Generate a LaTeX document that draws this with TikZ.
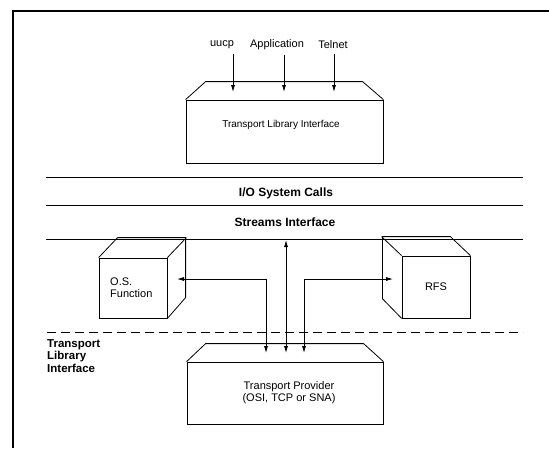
\documentclass[tikz,border=0pt]{standalone}
\usepackage{fontspec}
\setmainfont{Liberation Sans}
\usetikzlibrary{arrows.meta}
\begin{document}
\begin{tikzpicture}[x=1pt,y=-1pt,
  ln/.style={line width=0.8pt,line join=round},
  box/.style={draw,line width=0.8pt,inner sep=0pt,rectangle},
  arr/.style={line width=0.8pt,-{Latex[length=7pt,width=4pt]}},
  darr/.style={line width=0.8pt,{Latex[length=7pt,width=4pt]}-{Latex[length=7pt,width=4pt]}},
  txt/.style={font=\fontsize{11}{12}\selectfont,inner sep=1pt},
  btxt/.style={font=\fontsize{12}{12.5}\selectfont\bfseries,inner sep=1pt}]
\useasboundingbox (0,0) rectangle (549,448);
% frame
\draw[line width=1.3pt] (13,448) -- (13,11) -- (549,11);

% top box
\node[box,minimum width=197pt,minimum height=63pt] (tli) at (284.5,131.5) {};
\draw[ln] (tli.north west) -- ++(20,-18) -- ++(157,0) -- (tli.north east);
\node[txt,font=\fontsize{10}{12}\selectfont] (tlitxt) at (281,125) {Transport Library Interface};

% inputs
\node[txt] (uucp) at (222,45) {uucp};
\node[txt] (app) at (277,45) {Application};
\node[txt] (tel) at (333,45) {Telnet};
\coordinate (uin) at (233,92);
\coordinate (ain) at (284,92);
\coordinate (tin) at (334,92);
\draw[arr] (uucp.south -| uin) ++(0,4) -- (uin);
\draw[arr] (app.south -| ain) ++(0,4) -- (ain);
\draw[arr] (tel.south -| tin) ++(0,4) -- (tin);

% layer lines
\coordinate (l1a) at (46,177); \coordinate (l1b) at (523,177);
\coordinate (l2a) at (46,205); \coordinate (l2b) at (523,205);
\coordinate (l3a) at (46,239); \coordinate (l3b) at (523,239);
\draw[ln] (l1a) -- (l1b);
\draw[ln] (l2a) -- (l2b);
\draw[ln] (l3a) -- (l3b);
\node[btxt] (io) at (286,193) {I/O System Calls};
\node[btxt] (si) at (285,222) {Streams Interface};

% dashed transport library interface
\coordinate (dla) at (47,332); \coordinate (dlb) at (523,332);
\draw[ln,dash pattern=on 9pt off 5pt] (dla) -- (dlb);
\node[btxt,font=\fontsize{11.5}{12.5}\selectfont\bfseries,align=left,anchor=west] (tlil) at (46,356) {Transport\\Library\\Interface};

% O.S. Function cube
\node[box,minimum width=68pt,minimum height=60pt] (os) at (133,288) {};
\draw[ln] (os.north west) -- ++(19,-20) -- ++(68,0) -- ++(0,60) -- (os.south east);
\draw[ln] (os.north east) -- ++(19,-20);
\node[txt,align=left,anchor=west] (ostxt) at (109,288) {O.S.\\Function};

% RFS cube
\node[box,minimum width=68pt,minimum height=62pt,txt] (rfs) at (436,287) {RFS};
\draw[ln] (rfs.north east) -- ++(-20,-19) -- ++(-68,0) -- ++(0,62) -- (rfs.south west);
\draw[ln] (rfs.north west) -- ++(-20,-19);

% Transport provider box
\node[box,minimum width=196pt,minimum height=62pt] (tp) at (285,393) {};
\draw[ln] (tp.north west) -- ++(19,-18) -- ++(158,0) -- (tp.north east);
\node[txt,align=center] (tptxt) at (289,393) {Transport Provider\\(OSI, TCP or SNA)};

% connectors
\coordinate (mtop) at (286,240); \coordinate (mbot) at (286,353);
\draw[darr] (mtop) -- (mbot);
\coordinate (osin) at (177,279); \coordinate (lbot) at (266,353);
\draw[darr] (osin) -| (lbot);
\coordinate (rfsin) at (393,279); \coordinate (rbot) at (304,353);
\draw[darr] (rbot) |- (rfsin);
\end{tikzpicture}
\end{document}
